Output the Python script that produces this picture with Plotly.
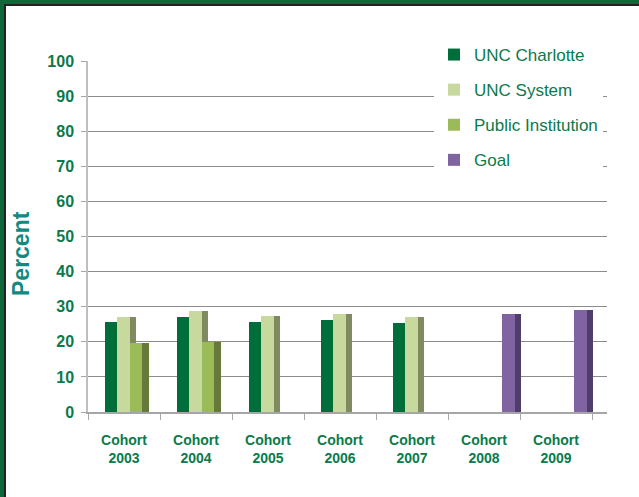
import plotly.graph_objects as go

# Graduation-rate data by entering cohort
cohorts = ["2003", "2004", "2005", "2006", "2007", "2008", "2009"]
unc_charlotte = [25.6, 27.0, 25.7, 26.1, 25.3, None, None]
unc_system = [27.1, 28.7, 27.4, 28.0, 27.2, None, None]
public_institution = [19.6, 19.9, None, None, None, None, None]
goal = [None, None, None, None, None, 27.9, 29.2]
y_ticks = [0, 10, 20, 30, 40, 50, 60, 70, 80, 90, 100]

# Page geometry (pixels)
W, H = 639, 497
PL, PR, PT, PB = 88, 607, 61, 412
SLOT = 72.0                      # pixels per category
x_max = -0.5 + (PR - PL) / SLOT  # grid runs a bit past the last slot

FONT = "Liberation Sans, Arial, sans-serif"
GREEN_TXT = "#0b7a4b"

series = [
    ("UNC Charlotte", unc_charlotte, "#006e3b", "#004d29"),
    ("UNC System", unc_system, "#c7d99d", "#7f8a60"),
    ("Public Institution", public_institution, "#9bbb59", "#66793a"),
    ("Goal", goal, "#8064a2", "#4f3d6b"),
]

front_w = 12.6 / SLOT
side_w = 6.5 / SLOT
start = -19.5 / SLOT
x_idx = list(range(len(cohorts)))

fig = go.Figure()
for k, (name, vals, c_front, c_side) in enumerate(series):
    off = start + k * front_w
    # darker side face of each column
    fig.add_trace(go.Bar(
        x=x_idx, y=vals, offset=off + front_w, width=side_w,
        marker=dict(color=c_side, line=dict(width=0)),
        showlegend=False, hoverinfo="skip", legendgroup=name,
    ))
    # front face
    fig.add_trace(go.Bar(
        x=x_idx, y=vals, offset=off, width=front_w, name=name,
        marker=dict(color=c_front, line=dict(width=0)),
        legendgroup=name,
    ))

def px_x(p):
    return (p - PL) / (PR - PL)

def px_y(p):
    return (PB - p) / (PB - PT)

# frame along the top and left edges
shapes = [
    dict(type="rect", xref="paper", yref="paper", x0=px_x(0), x1=px_x(W),
         y0=px_y(0), y1=px_y(4), fillcolor="#12673a", line=dict(width=0), layer="above"),
    dict(type="rect", xref="paper", yref="paper", x0=px_x(0), x1=px_x(4),
         y0=px_y(0), y1=px_y(H), fillcolor="#12673a", line=dict(width=0), layer="above"),
    dict(type="rect", xref="paper", yref="paper", x0=px_x(4), x1=px_x(W),
         y0=px_y(4), y1=px_y(6), fillcolor="#222222", line=dict(width=0), layer="above"),
    dict(type="rect", xref="paper", yref="paper", x0=px_x(4), x1=px_x(6),
         y0=px_y(4), y1=px_y(H), fillcolor="#222222", line=dict(width=0), layer="above"),
]

# rotated y-axis title
annotations = [
    dict(text="<b>Percent</b>", xref="paper", yref="paper",
         x=px_x(21), y=px_y(254), xanchor="center", yanchor="middle",
         textangle=-90, showarrow=False,
         font=dict(family=FONT, size=23, color="#138a80")),
]

fig.update_layout(
    width=W, height=H,
    margin=dict(l=PL, r=W - PR, t=PT, b=H - PB, autoexpand=False),
    paper_bgcolor="white", plot_bgcolor="white",
    barmode="overlay", bargap=0,
    shapes=shapes,
    annotations=annotations,
    showlegend=True,
    legend=dict(
        x=px_x(434), xanchor="left", y=px_y(37), yanchor="top",
        bgcolor="white", borderwidth=0,
        font=dict(family=FONT, size=17, color=GREEN_TXT),
        tracegroupgap=10, itemwidth=30,
    ),
    xaxis=dict(
        automargin=False,
        range=[-0.5, x_max],
        tickvals=x_idx,
        ticktext=[f"<b>Cohort<br>{c}</b>" for c in cohorts],
        tickfont=dict(family=FONT, size=14, color=GREEN_TXT),
        ticks="", ticklabelstandoff=14,
        showline=True, linecolor="#a6a6a6", linewidth=1.5,
        showgrid=False, zeroline=False,
        minor=dict(tick0=-0.5, dtick=1, ticks="outside", ticklen=6,
                   tickcolor="#a6a6a6", showgrid=False),
    ),
    yaxis=dict(
        automargin=False,
        range=[0, 100],
        tickvals=y_ticks,
        ticktext=[f"<b>{v}</b>" for v in y_ticks],
        tickfont=dict(family=FONT, size=16, color=GREEN_TXT),
        ticks="outside", ticklen=5, tickcolor="#a6a6a6",
        ticklabelstandoff=4,
        showline=True, linecolor="#bfbfbf", linewidth=1.5,
        showgrid=True, gridcolor="#8c8c8c", gridwidth=1.3,
        zeroline=False,
    ),
)

fig.write_html("out.html")
